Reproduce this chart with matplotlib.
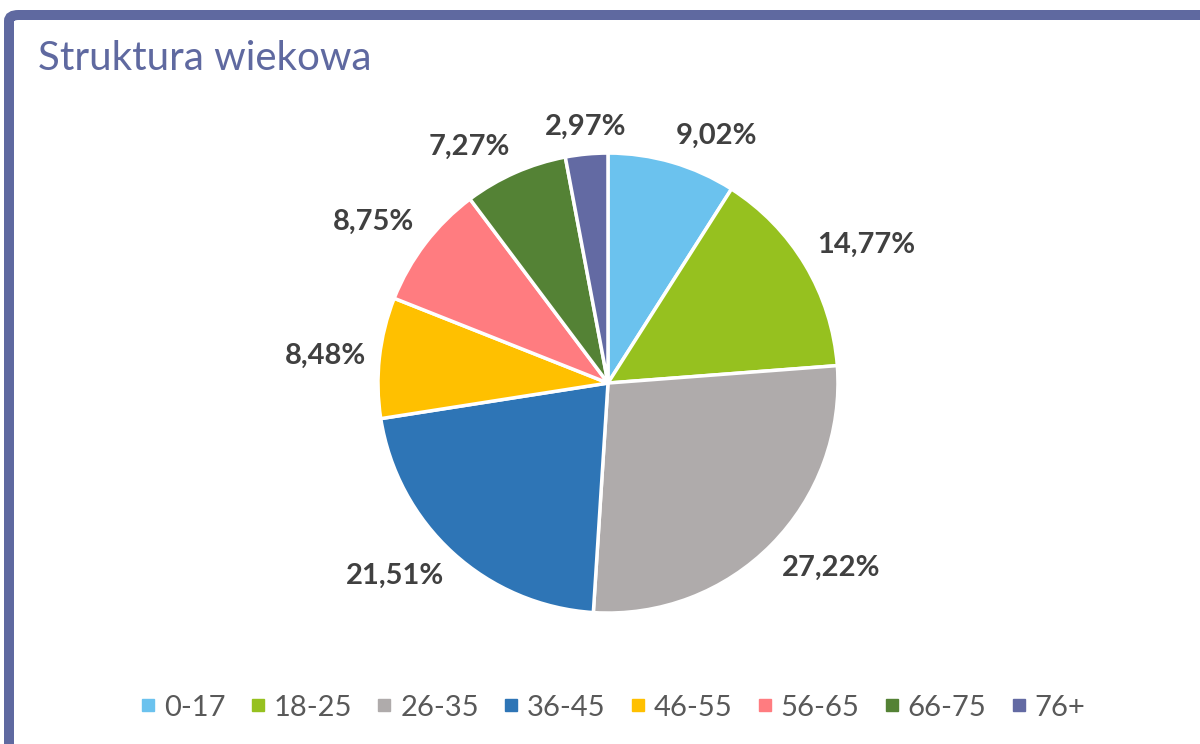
import numpy as np
import matplotlib.pyplot as plt
from matplotlib.lines import Line2D
from matplotlib.patches import FancyBboxPatch

plt.rcParams["font.family"] = ["Lato", "DejaVu Sans"]

age_groups = ["0-17", "18-25", "26-35", "36-45", "46-55", "56-65", "66-75", "76+"]
shares = [9.02, 14.77, 27.22, 21.51, 8.48, 8.75, 7.27, 2.97]
colors = ["#6BC2EE", "#96C11F", "#AFABAB", "#2E75B6",
          "#FFC000", "#FF7C80", "#548235", "#636AA3"]

border_col = "#5F69A0"

fig = plt.figure(figsize=(12, 7.44), dpi=100)

# frame: thick top and left bars (bottom/right run off the canvas)
x0 = 9 / 1200
y1 = 1 - 15 / 744
frame = FancyBboxPatch((x0, -0.2), 1.2, y1 + 0.2,
                       boxstyle="round,pad=0,rounding_size=0.008",
                       transform=fig.transFigure, fill=False,
                       edgecolor=border_col, linewidth=7.2, clip_on=False)
fig.patches.append(frame)

fig.text(0.032, 0.906, "Struktura wiekowa", fontsize=29, color=border_col,
         ha="left", va="baseline")

ax = fig.add_axes([0.315, 0.176, 0.3833, 0.6183])
wedges, _ = ax.pie(shares, colors=colors, startangle=90, counterclock=False,
                   radius=1.0,
                   wedgeprops=dict(edgecolor="white", linewidth=2.5))
ax.set_xlim(-1, 1)
ax.set_ylim(-1, 1)
ax.set_aspect("equal")
ax.axis("off")

for w, v in zip(wedges, shares):
    ang = np.deg2rad((w.theta1 + w.theta2) / 2)
    c, s = np.cos(ang), np.sin(ang)
    ha = "left" if c > 0.15 else ("right" if c < -0.15 else "center")
    va = "bottom" if s > 0.3 else ("top" if s < -0.3 else "center")
    ax.text(1.06 * c, 1.06 * s, f"{v:.2f}%".replace(".", ","),
            ha=ha, va=va, fontsize=21, fontweight="bold", color="#404040",
            clip_on=False)

handles = [Line2D([], [], marker="s", linestyle="none", markersize=8,
                  markerfacecolor=col, markeredgecolor=col) for col in colors]
fig.legend(handles, age_groups, loc="center", bbox_to_anchor=(0.511, 0.049),
           ncol=8, frameon=False, fontsize=21, labelcolor="#595959",
           handlelength=0.5, handletextpad=0.3, columnspacing=0.85)

fig.savefig("out.png", dpi=100, facecolor="white")
